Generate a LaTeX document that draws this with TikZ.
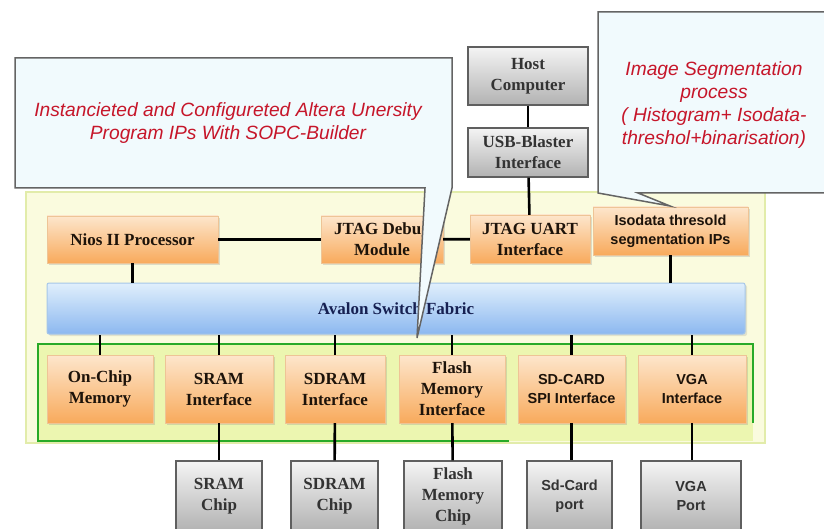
\documentclass[tikz,border=0pt]{standalone}
\usepackage{fontspec}
\setmainfont{Liberation Serif}
\newfontfamily\arialfont{Liberation Sans}
\usepackage{tikz}
\usetikzlibrary{shadows}
\definecolor{socyellow}{RGB}{250,251,222}
\definecolor{socyellowline}{RGB}{226,236,170}
\definecolor{ipgreen}{RGB}{236,246,176}
\definecolor{ipgreenline}{RGB}{40,170,40}
\definecolor{ipotop}{RGB}{253,230,204}
\definecolor{ipobot}{RGB}{248,170,92}
\definecolor{ipoline}{RGB}{238,196,150}
\definecolor{chiptop}{RGB}{244,244,244}
\definecolor{chipbot}{RGB}{178,178,178}
\definecolor{chipline}{RGB}{95,95,95}
\definecolor{bustop}{RGB}{224,239,252}
\definecolor{busbot}{RGB}{140,184,240}
\definecolor{busline}{RGB}{165,198,232}
\definecolor{bustext}{RGB}{22,32,82}
\definecolor{notefill}{RGB}{241,250,253}
\definecolor{noteline}{RGB}{100,100,100}
\definecolor{notered}{RGB}{198,22,42}

\begin{document}
\begin{tikzpicture}[x=1pt,y=-1pt,
    ipbox/.style={draw=ipoline, top color=ipotop, bottom color=ipobot,
      align=center, inner sep=0pt, text=black!85!brown,
      font=\fontsize{17}{21}\selectfont\bfseries,
      drop shadow={opacity=0.25, shadow xshift=2pt, shadow yshift=-2pt}},
    ipsans/.style={font=\arialfont\fontsize{14.5}{19}\selectfont\bfseries},
    chipbox/.style={draw=chipline, line width=1.2, top color=chiptop, bottom color=chipbot,
      align=center, inner sep=0pt, text=black!80,
      font=\fontsize{17}{21}\selectfont\bfseries},
    conn/.style={line width=2.6, black},
    note/.style={fill=notefill, draw=noteline, line width=1.5},
    notetext/.style={align=center, text=notered,
      font=\arialfont\fontsize{19.2}{23}\selectfont\itshape}]
    \useasboundingbox (0,0) rectangle (824,529);
    % SoC area and IP group
    \filldraw[fill=socyellow, draw=socyellowline, line width=1.5] (26,192) rectangle (765,443);
    \fill[ipgreen] (38,344) rectangle (753,441);
    \draw[ipgreenline, line width=2] (509,441) -- (38,441) -- (38,344) -- (753,344) -- (753,423);
    % Host side
    \node[chipbox, minimum width=120, minimum height=58] (host) at (528,76) {Host\\Computer};
    \node[chipbox, minimum width=120, minimum height=49] (usb) at (528,152.5) {USB-Blaster\\Interface};
    % Top row of IPs
    \node[ipbox, minimum width=171, minimum height=47] (nios) at (132.5,239.5) {Nios II Processor};
    \node[ipbox, minimum width=122, minimum height=47] (jtagdbg) at (382,239.5) {JTAG Debug\\Module};
    \node[ipbox, minimum width=120, minimum height=48] (jtaguart) at (530,239) {JTAG UART\\Interface};
    \node[ipbox, ipsans, minimum width=155, minimum height=48] (isodata) at (670.5,231) {Isodata thresold\\segmentation IPs};
    % Bus
    \node[draw=busline, line width=1, top color=bustop, bottom color=busbot, rounded corners=2,
      minimum width=698, minimum height=51, text=bustext,
      font=\fontsize{17}{21}\selectfont\bfseries,
      drop shadow={opacity=0.2, shadow xshift=2pt, shadow yshift=-2pt}] (avalon) at (396,308.5) {Avalon Switch Fabric};
    % Bottom row of IPs
    \node[ipbox, minimum width=106, minimum height=68] (onchip) at (100,389) {On-Chip\\Memory};
    \node[ipbox, minimum width=108, minimum height=68] (sramif) at (219,389) {SRAM\\Interface};
    \node[ipbox, minimum width=100, minimum height=68] (sdramif) at (335,389) {SDRAM\\Interface};
    \node[ipbox, minimum width=106, minimum height=68] (flashif) at (452,389) {Flash\\Memory\\Interface};
    \node[ipbox, ipsans, minimum width=107, minimum height=68] (sdif) at (571.5,389) {SD-CARD\\SPI Interface};
    \node[ipbox, ipsans, minimum width=108, minimum height=68] (vgaif) at (692,389) {VGA\\Interface};
    % Off-chip devices
    \node[chipbox, minimum width=86, minimum height=70] (sramchip) at (219,496) {SRAM\\Chip};
    \node[chipbox, minimum width=87, minimum height=70] (sdramchip) at (334.5,496) {SDRAM\\Chip};
    \node[chipbox, minimum width=98, minimum height=70] (flashchip) at (453,496) {Flash\\Memory\\Chip};
    \node[chipbox, ipsans, minimum width=85, minimum height=70] (sdport) at (569.5,496) {Sd-Card\\port};
    \node[chipbox, ipsans, minimum width=100, minimum height=70] (vgaport) at (691,496) {VGA\\Port};
    % Connections
    \draw[conn] (host) -- (usb);
    \draw[conn] (usb) -- (jtaguart);
    \draw[conn] (nios) -- (jtagdbg);
    \draw[conn] (jtagdbg) -- (jtaguart);
    \draw[conn] (nios.south) -- (nios.south |- avalon.north);
    \draw[conn] (isodata.south) -- (isodata.south |- avalon.north);
    \foreach \ip in {onchip,sramif,sdramif,flashif,sdif,vgaif}
      \draw[conn] (\ip.north) -- (\ip.north |- avalon.south);
    \draw[conn] (sramif) -- (sramchip);
    \draw[conn] (sdramif) -- (sdramchip);
    \draw[conn] (flashif) -- (flashchip);
    \draw[conn] (sdif.south) -- (sdif.south |- sdport.north);
    \draw[conn] (vgaif.south) -- (vgaif.south |- vgaport.north);
    % Callouts
    \draw[note] (15,58) -- (452,58) -- (452,188) -- (417,338) -- (425,188) -- (15,188) -- cycle;
    \node[notetext] (sopcnote) at (228,123) {Instancieted and Configureted Altera Unersity\\Program IPs With SOPC-Builder};
    \draw[note] (598,12) -- (830,12) -- (830,193) -- (638,193) -- (670,206) -- (598,193) -- cycle;
    \node[notetext] (segnote) at (714,105) {Image Segmentation\\process\\( Histogram+ Isodata-\\threshol+binarisation)};
  \end{tikzpicture}
\end{document}
